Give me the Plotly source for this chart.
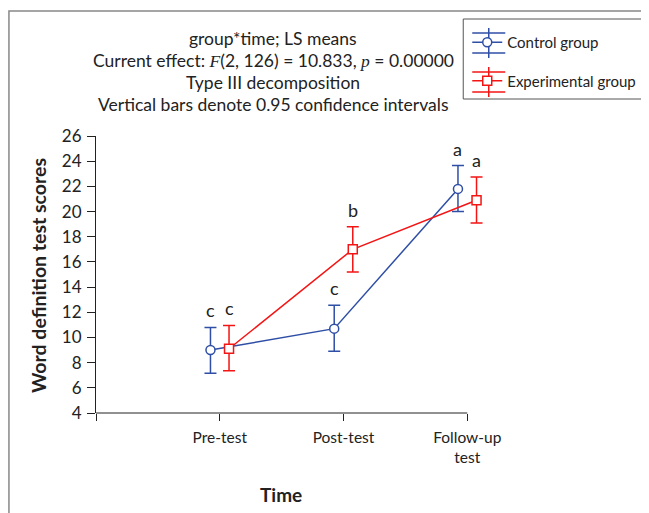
import plotly.graph_objects as go

categories = ["Pre-test", "Post-test", "Follow-up<br>test"]
cat_pos = [1, 2, 3]
offset = 0.075

control_mean = [9.0, 10.7, 21.8]
control_low = [7.15, 8.9, 20.0]
control_high = [10.8, 12.55, 23.65]

exp_mean = [9.1, 17.0, 20.9]
exp_low = [7.35, 15.2, 19.1]
exp_high = [10.95, 18.8, 22.75]

control_letters = ["c", "c", "a"]
exp_letters = ["c", "b", "a"]

BLUE = "#2F4FA6"
RED = "#F41414"
FONT = "Lato"
TXT = "#222222"

OFF = 8  # page body margin
W, H = 649 - OFF, 513 - OFF
L, T = 96 - OFF, 136 - OFF
X_MAX = 3.2
PW = 123.67 * X_MAX
PH = 277.0
R = W - L - PW
B = H - T - PH


def px(xs):
    return (xs - OFF - L) / PW


def py(ys):
    return (T + PH - (ys - OFF)) / PH


fig = go.Figure()


def add_series(name, means, lows, highs, color, symbol, shift):
    xs = [p + shift for p in cat_pos]
    fig.add_trace(go.Scatter(
        x=xs, y=means, name=name, mode="lines+markers",
        line=dict(color=color, width=1.5),
        marker=dict(symbol=symbol, size=9, color="white", line=dict(color=color, width=1.5)),
        error_y=dict(type="data", symmetric=False,
                     array=[h - m for h, m in zip(highs, means)],
                     arrayminus=[m - l for m, l in zip(means, lows)],
                     color=color, thickness=1.5, width=6),
        cliponaxis=False, legendgroup=name,
    ))


add_series("Control group", control_mean, control_low, control_high, BLUE, "circle", -offset)
add_series("Experimental group", exp_mean, exp_low, exp_high, RED, "square", offset)

annotations = []
for i, p in enumerate(cat_pos):
    annotations.append(dict(x=p - offset, y=control_high[i], xref="x", yref="y", text=control_letters[i],
                            showarrow=False, yanchor="bottom", yshift=4, font=dict(size=18, color=TXT, family=FONT)))
    annotations.append(dict(x=p + offset, y=exp_high[i], xref="x", yref="y", text=exp_letters[i],
                            showarrow=False, yanchor="bottom", yshift=4, font=dict(size=18, color=TXT, family=FONT)))

title_lines = [
    "group*time; LS means",
    "Current effect: <span style='font-family:Liberation Serif'><i>F</i></span>(2, 126) = 10.833, <span style='font-family:Liberation Serif'><i>p</i></span> = 0.00000",
    "Type III decomposition",
    "Vertical bars denote 0.95 confidence intervals",
]
title_ypx = [38, 60, 82.5, 105]
for t, yy in zip(title_lines, title_ypx):
    annotations.append(dict(x=px(273), y=py(yy), xref="paper", yref="paper", text=t, showarrow=False,
                            xanchor="center", yanchor="middle", font=dict(size=17.5, color=TXT, family=FONT)))

annotations.append(dict(x=px(38), y=py(275), xref="paper", yref="paper", text="<b>Word definition test scores</b>",
                        textangle=-90, showarrow=False, xanchor="center", yanchor="middle",
                        font=dict(size=19.5, color=TXT, family=FONT)))
annotations.append(dict(x=px(281), y=py(494), xref="paper", yref="paper", text="<b>Time</b>",
                        showarrow=False, xanchor="center", yanchor="middle",
                        font=dict(size=19, color=TXT, family=FONT)))

shapes = [
    dict(type="rect", xref="paper", yref="paper", x0=px(9), x1=px(700), y0=py(560), y1=py(11),
         line=dict(color="#888", width=1.5), fillcolor="rgba(0,0,0,0)", layer="below"),
    # legend box
    dict(type="rect", xref="paper", yref="paper", x0=px(463), x1=px(644), y0=py(99), y1=py(19),
         line=dict(color="#555", width=1), fillcolor="rgba(0,0,0,0)"),
    # x axis line only across the category span
    dict(type="line", xref="x", yref="paper", x0=0, x1=3, y0=0, y1=0, line=dict(color="#222", width=1)),
]
# legend error-bar glyph decorations
for cy, col in [(43, BLUE), (82, RED)]:
    shapes.append(dict(type="line", xref="paper", yref="paper", x0=px(472), x1=px(505), y0=py(cy - 10), y1=py(cy - 10),
                       line=dict(color=col, width=1.5)))
    shapes.append(dict(type="line", xref="paper", yref="paper", x0=px(472), x1=px(505), y0=py(cy + 10), y1=py(cy + 10),
                       line=dict(color=col, width=1.5)))
    shapes.append(dict(type="line", xref="paper", yref="paper", x0=px(488.5), x1=px(488.5), y0=py(cy - 15), y1=py(cy + 15),
                       line=dict(color=col, width=1.5)))

fig.update_layout(
    width=W, height=H,
    margin=dict(l=L, r=R, t=T, b=B, autoexpand=False),
    paper_bgcolor="white", plot_bgcolor="white",
    font=dict(family=FONT, color=TXT),
    xaxis=dict(range=[0, X_MAX], tickvals=[0] + cat_pos, ticktext=[""] + categories,
               showgrid=False, zeroline=False, showline=False,
               ticks="outside", ticklen=7, tickcolor="#222", ticklabelstandoff=3,
               tickfont=dict(size=15.5, color=TXT, family=FONT)),
    yaxis=dict(range=[4, 26], dtick=2, tick0=4,
               showgrid=False, zeroline=False, showline=True, linecolor="#222", linewidth=1,
               ticks="outside", ticklen=8, tickcolor="#222", ticklabelstandoff=2,
               tickfont=dict(size=17, color=TXT, family=FONT)),
    legend=dict(x=px(467), y=py(26), xanchor="left", yanchor="top", borderwidth=0,
                font=dict(size=15, color=TXT, family=FONT), tracegroupgap=16, bgcolor="rgba(0,0,0,0)"),
    annotations=annotations,
    shapes=shapes,
)

fig.write_html("out.html")
